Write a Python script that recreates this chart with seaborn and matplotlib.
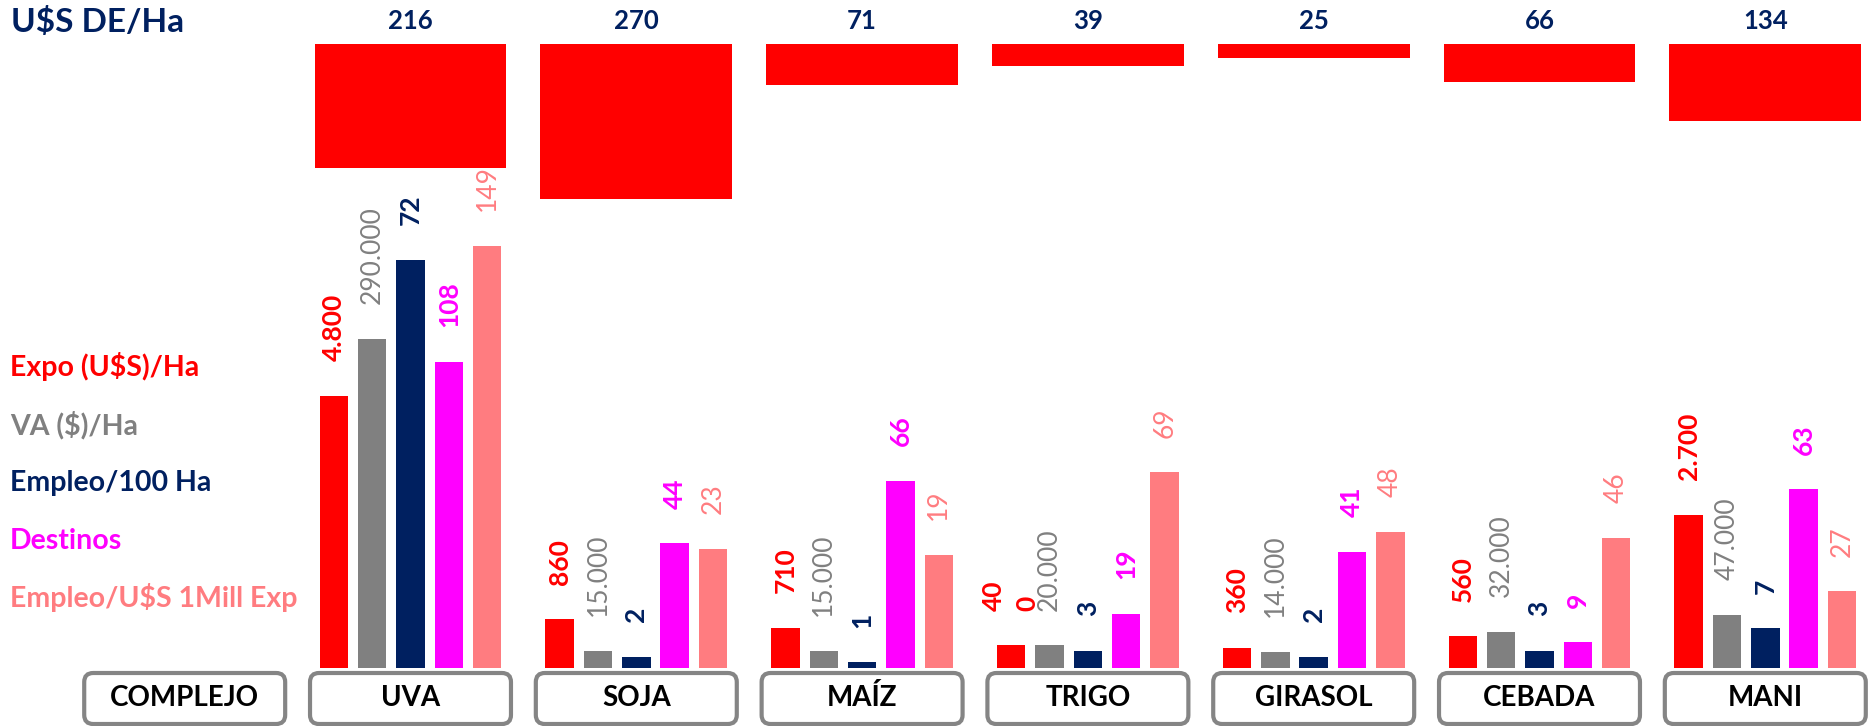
import matplotlib.pyplot as plt
import seaborn as sns
import pandas as pd
from matplotlib.patches import FancyBboxPatch

# datos del gráfico
complejos = ['UVA', 'SOJA', 'MAÍZ', 'TRIGO', 'GIRASOL', 'CEBADA', 'MANI']
usd_de_ha = [216, 270, 71, 39, 25, 66, 134]

series = ['Expo (U$S)/Ha', 'VA ($)/Ha', 'Empleo/100 Ha', 'Destinos', 'Empleo/U$S 1Mill Exp']
expo_ha = [4800, 860, 710, 400, 360, 560, 2700]
va_ha = [290000, 15000, 15000, 20000, 14000, 32000, 47000]
empleo_100ha = [72, 2, 1, 3, 2, 3, 7]
destinos = [108, 44, 66, 19, 41, 9, 63]
empleo_mill = [149, 42, 40, 69, 48, 46, 27]

# etiquetas tal como aparecen en el gráfico
etq_expo = ['4.800', '860', '710', '', '360', '560', '2.700']
etq_trigo = ['40', '0']  # la etiqueta de TRIGO aparece partida en dos
etq_va = ['290.000', '15.000', '15.000', '20.000', '14.000', '32.000', '47.000']
etq_empleo = [str(v) for v in empleo_100ha]
etq_destinos = [str(v) for v in destinos]
etq_mill = ['149', '23', '19', '69', '48', '46', '27']

# cada serie va a un eje común con su propio factor
factores = [1, 1 / 50, 100, 50, 50]
colores = ['#FF0000', '#808080', '#002060', '#FF00FF', '#FF7C80']
pesos = ['bold', 'normal', 'bold', 'bold', 'normal']

sns.set_style('white')
plt.rcParams['font.family'] = ['Lato', 'DejaVu Sans']

W, H = 1868, 726
fig = plt.figure(figsize=(W / 100, H / 100), dpi=100)
fig.patch.set_facecolor('white')


def ejes(top, height):
    return fig.add_axes([0, 1 - (top + height) / H, 1, height / H])


paso = 225.8
x0 = -410.5 / paso
x1 = (W - 410.5) / paso

# ------------ barras de abajo ------------
valores = [expo_ha, va_ha, empleo_100ha, destinos, empleo_mill]
filas = []
for s, vals, f in zip(series, valores, factores):
    for c, v in zip(complejos, vals):
        filas.append({'complejo': c, 'serie': s, 'altura': v * f})
df = pd.DataFrame(filas)

ax = ejes(0, 668)
sns.barplot(data=df, x='complejo', y='altura', hue='serie', order=complejos,
            hue_order=series, palette=colores, width=0.85, gap=0.26,
            saturation=1, linewidth=0, legend=False, ax=ax)
ax.set_xlim(x0, x1)
ax.set_ylim(0, 668 / 0.0567)
ax.axis('off')

etiquetas = [etq_expo, etq_va, etq_empleo, etq_destinos, etq_mill]
for cont, etq, col, peso in zip(ax.containers, etiquetas, colores, pesos):
    ax.bar_label(cont, labels=etq, padding=25, rotation=90, color=col,
                 fontsize=19, fontweight=peso)

# etiqueta partida de TRIGO (40 / 0)
barra = ax.containers[0][complejos.index('TRIGO')]
xb = barra.get_x() + barra.get_width() / 2
yb = barra.get_height()
for txt, dx in zip(etq_trigo, [-12.6, 11.5]):
    ax.annotate(txt, xy=(xb, yb), xytext=(dx, 25), textcoords='offset points',
                rotation=90, ha='center', va='bottom', color=colores[0],
                fontsize=19, fontweight='bold')

# ------------ barras de arriba (U$S DE/Ha) ------------
ax_top = ejes(44, 256)
sns.barplot(x=complejos, y=usd_de_ha, color='#FF0000', width=0.85,
            saturation=1, linewidth=0, ax=ax_top)
ax_top.set_xlim(x0, x1)
ax_top.set_ylim(256 / 0.573, 0)
ax_top.axis('off')
for i, v in enumerate(usd_de_ha):
    ax_top.annotate(str(v), xy=(i, 0), xytext=(0, 16.6), textcoords='offset points',
                    ha='center', va='center', fontsize=18.5, fontweight='bold',
                    color='#002060', annotation_clip=False)

fig.text(11 / W, 1 - 22 / H, 'U$S DE/Ha', fontsize=24, fontweight='bold',
         color='#002060', va='center', ha='left')

# ------------ leyenda a la izquierda ------------
ys = [367, 425, 483, 541, 598]
for s, col, y in zip(series, colores, ys):
    fig.text(10 / W, 1 - y / H, s, fontsize=20.5, fontweight='bold', color=col,
             va='center', ha='left')

# ------------ cajas con los nombres ------------
ax_box = ejes(668, 58)
ax_box.set_xlim(x0, x1)
ax_box.set_ylim(0, 58 / paso)
ax_box.axis('off')
nombres = ['COMPLEJO'] + complejos
for i, n in enumerate(nombres):
    xc = i - 1
    caja = FancyBboxPatch((xc - 0.445, 2 / paso), 0.89, 51 / paso,
                          boxstyle='round,pad=0,rounding_size=0.04',
                          facecolor='white', edgecolor='#858585', linewidth=3,
                          clip_on=False)
    ax_box.add_patch(caja)
    ax_box.text(xc, 28 / paso, n, ha='center', va='center', fontsize=20,
                fontweight='bold', color='black')

fig.savefig('out.png', dpi=100, facecolor='white')
